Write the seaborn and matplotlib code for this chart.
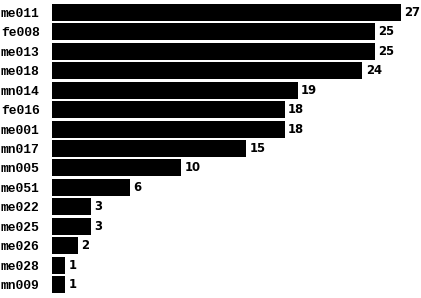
import matplotlib
matplotlib.use("Agg")
import matplotlib.pyplot as plt
import seaborn as sns
import pandas as pd

categories = ["me011", "fe008", "me013", "me018", "mn014", "fe016", "me001",
              "mn017", "mn005", "me051", "me022", "me025", "me026", "me028", "mn009"]
values = [27, 25, 25, 24, 19, 18, 18, 15, 10, 6, 3, 3, 2, 1, 1]

df = pd.DataFrame({"id": categories, "count": values})

sns.set_theme(style="white")
plt.rcParams['font.family'] = ['Liberation Mono', 'DejaVu Sans Mono']

fig = plt.figure(figsize=(4.21, 2.98), dpi=100)
W, H = 421, 298
ax = fig.add_axes([52 / W, (298 - 294.2) / H, 349 / W, 291.4 / H])

sns.barplot(data=df, y="id", x="count", orient="h", color="black",
            saturation=1, width=0.875, ax=ax, edgecolor="none")

ax.set_xlim(0, 27)
ax.set_ylim(14.5, -0.5)
for s in ax.spines.values():
    s.set_visible(False)
ax.set_xticks([])
ax.set_xlabel("")
ax.set_ylabel("")
ax.tick_params(axis="y", length=0, pad=9)
for lbl in ax.get_yticklabels():
    lbl.set_fontweight("bold")
    lbl.set_fontsize(9.4)
    lbl.set_color("black")

ax.bar_label(ax.containers[0], padding=2.5, fontsize=8.4, fontweight="bold",
             color="black", family="DejaVu Sans")

fig.savefig("out.png", dpi=100)
